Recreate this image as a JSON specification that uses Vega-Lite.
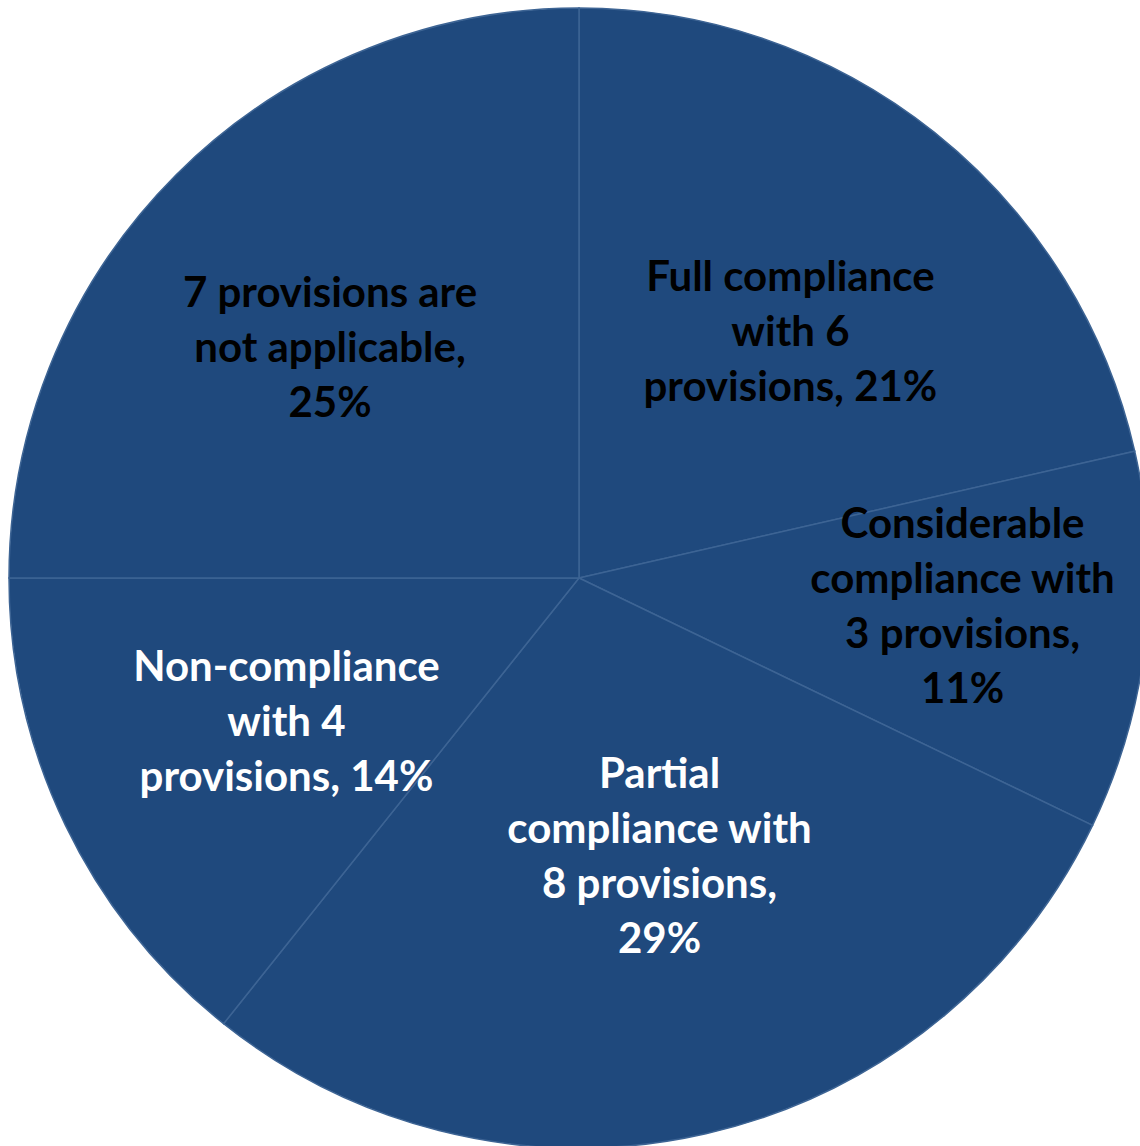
{
  "$schema": "https://vega.github.io/schema/vega-lite/v6.json",
  "width": 1122,
  "height": 1138,
  "autosize": "none",
  "padding": {"left": 18, "top": 9, "right": 0, "bottom": 0},
  "background": "white",
  "view": {"stroke": null},
  "data": {
    "values": [
      {"status": "Full compliance", "provisions": 6, "label": "Full compliance\nwith 6\nprovisions, 21%"},
      {"status": "Considerable compliance", "provisions": 3, "label": "Considerable\ncompliance with\n3 provisions,\n11%"},
      {"status": "Partial compliance", "provisions": 8, "label": "Partial\ncompliance with\n8 provisions,\n29%"},
      {"status": "Non-compliance", "provisions": 4, "label": "Non-compliance\nwith 4\nprovisions, 14%"},
      {"status": "Not applicable", "provisions": 7, "label": "7 provisions are\nnot applicable,\n25%"}
    ]
  },
  "transform": [
    {"window": [{"op": "row_number", "as": "order"}]}
  ],
  "encoding": {
    "theta": {"field": "provisions", "type": "quantitative", "stack": true},
    "order": {"field": "order", "type": "quantitative"}
  },
  "layer": [
    {
      "mark": {"type": "arc", "outerRadius": 570, "fill": "#1F497D", "stroke": "#3D6494", "strokeWidth": 1.5}
    },
    {
      "mark": {"type": "text", "radius": 323, "dx": 10, "dy": -47, "font": "Lato", "fontWeight": "bold", "fontSize": 42, "lineBreak": "\n", "lineHeight": 55, "align": "center", "baseline": "middle", "color": "black"},
      "encoding": {
        "text": {"condition": {"test": "datum.status == 'Full compliance'", "field": "label"}, "value": ""}
      }
    },
    {
      "mark": {"type": "text", "radius": 385, "dx": 1, "dy": -96, "font": "Lato", "fontWeight": "bold", "fontSize": 42, "lineBreak": "\n", "lineHeight": 55, "align": "center", "baseline": "middle", "color": "black"},
      "encoding": {
        "text": {"condition": {"test": "datum.status == 'Considerable compliance'", "field": "label"}, "value": ""}
      }
    },
    {
      "mark": {"type": "text", "radius": 290, "dx": 16, "dy": -86, "font": "Lato", "fontWeight": "bold", "fontSize": 42, "lineBreak": "\n", "lineHeight": 55, "align": "center", "baseline": "middle", "color": "white"},
      "encoding": {
        "text": {"condition": {"test": "datum.status == 'Partial compliance'", "field": "label"}, "value": ""}
      }
    },
    {
      "mark": {"type": "text", "radius": 328, "dx": 3, "dy": -52, "font": "Lato", "fontWeight": "bold", "fontSize": 42, "lineBreak": "\n", "lineHeight": 55, "align": "center", "baseline": "middle", "color": "white"},
      "encoding": {
        "text": {"condition": {"test": "datum.status == 'Non-compliance'", "field": "label"}, "value": ""}
      }
    },
    {
      "mark": {"type": "text", "radius": 338, "dx": -10, "dy": -45, "font": "Lato", "fontWeight": "bold", "fontSize": 42, "lineBreak": "\n", "lineHeight": 55, "align": "center", "baseline": "middle", "color": "black"},
      "encoding": {
        "text": {"condition": {"test": "datum.status == 'Not applicable'", "field": "label"}, "value": ""}
      }
    }
  ]
}
